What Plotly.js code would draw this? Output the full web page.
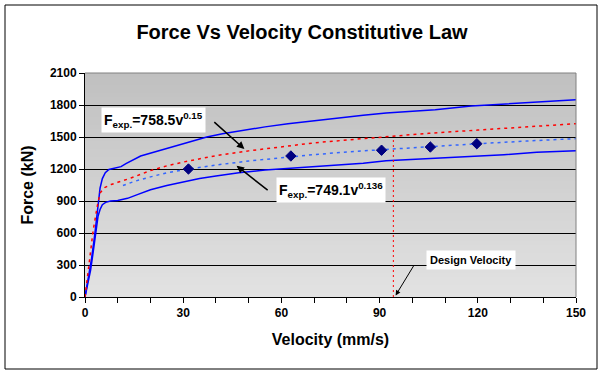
<!DOCTYPE html>
<html>
<head>
<meta charset="utf-8">
<script src="https://cdn.plot.ly/plotly-3.0.1.min.js"></script>
<style>html,body{margin:0;padding:0;background:#fff;}#chart{width:604px;height:374px;}</style>
</head>
<body>
<div id="chart"></div>
<script>
// ---- data ----
const upperV = [0, 1, 2, 3, 4, 4.6, 5.3, 6.2, 7.3, 9, 11, 12.5, 14.8, 17, 19.9, 25, 30, 35, 37.2, 42, 47.4, 55, 62, 70, 77, 85, 92, 100, 107, 118, 128, 138, 150];
const upperF = [0, 170, 360, 590, 870, 1020, 1110, 1165, 1195, 1210, 1222, 1250, 1290, 1322, 1348, 1392, 1440, 1482, 1500, 1530, 1558, 1595, 1625, 1655, 1680, 1705, 1725, 1740, 1756, 1790, 1809, 1829, 1850];

const lowerV = [0, 1, 1.7, 2.5, 3.3, 4, 4.6, 5.3, 6.3, 7.8, 10, 13, 16, 20, 25, 30, 35, 40, 47, 55, 62, 70, 77, 85, 92, 100, 107, 118, 128, 138, 150];
const lowerF = [0, 140, 250, 420, 630, 760, 820, 865, 887, 900, 905, 925, 960, 1005, 1045, 1080, 1110, 1135, 1165, 1190, 1205, 1220, 1232, 1255, 1278, 1290, 1297, 1318, 1334, 1356, 1372];

const fitAV = [0, 0.5, 1.5, 2.5, 3.8, 4.6, 6, 8, 10, 14, 20, 25, 30, 40, 50, 61, 70, 80, 92, 100, 105, 120, 130, 140, 150];
const fitAF = [0, 120, 355, 625, 860, 975, 1025, 1055, 1075, 1115, 1185, 1230, 1265, 1325, 1370, 1415, 1445, 1472, 1505, 1522, 1535, 1565, 1585, 1605, 1625];

const fitBV = [11.6, 15, 20, 25, 31.6, 40, 50, 63, 70, 80, 90.6, 100, 110, 120, 135, 150];
const fitBF = [1045, 1083, 1126, 1165, 1198, 1237, 1275, 1316, 1335, 1360, 1382, 1402, 1420, 1437, 1462, 1485];

const expV = [31.6, 62.9, 90.6, 105.5, 119.7];
const expF = [1200, 1322, 1376, 1406, 1437];

const designV = [94.2, 94.2];
const designF = [0, 1500];

const xTickVals = [0, 30, 60, 90, 120, 150];
const yTickVals = [0, 300, 600, 900, 1200, 1500, 1800, 2100];

// ---- styling ----
const FONT = "Arial, 'Liberation Sans', sans-serif";

const traces = [
  {x: upperV, y: upperF, type: 'scatter', mode: 'lines', line: {color: '#0000FF', width: 1.5}, hoverinfo: 'skip'},
  {x: lowerV, y: lowerF, type: 'scatter', mode: 'lines', line: {color: '#0000FF', width: 1.5}, hoverinfo: 'skip'},
  {x: fitAV, y: fitAF, type: 'scatter', mode: 'lines', line: {color: '#FF0000', width: 1.5, dash: '3px,4px'}},
  {x: fitBV, y: fitBF, type: 'scatter', mode: 'lines', line: {color: '#3366FF', width: 1.5, dash: '3px,4px'}},
  {x: expV, y: expF, type: 'scatter', mode: 'markers', marker: {symbol: 'diamond', size: 8, color: '#000080', line: {color: '#000080', width: 1}}},
  {x: designV, y: designF, type: 'scatter', mode: 'lines', line: {color: '#FF0000', width: 1, dash: '2px,3px'}}
];

// gradient plot background as stacked strips
const shapes = [];
const N = 56;
for (let i = 0; i < N; i++) {
  const t = i / (N - 1);
  const c = Math.round(226 - (226 - 192) * t);
  shapes.push({type: 'rect', xref: 'x domain', yref: 'y domain', x0: 0, x1: 1, y0: i / N, y1: (i + 1) / N,
    fillcolor: `rgb(${c},${c},${c})`, line: {width: 0}, layer: 'below'});
}
// plot area border (top/right gray)
shapes.push({type: 'line', xref: 'x domain', yref: 'y domain', x0: 0, x1: 1, y0: 1, y1: 1, line: {color: '#808080', width: 1}, layer: 'above'});
shapes.push({type: 'line', xref: 'x domain', yref: 'y domain', x0: 1, x1: 1, y0: 0, y1: 1, line: {color: '#808080', width: 1}, layer: 'above'});
// outer chart frame
shapes.push({type: 'rect', xref: 'paper', yref: 'paper', x0: (5 - 85) / 491, x1: (597 - 85) / 491, y0: (297 - 369) / 224, y1: (297 - 5) / 224,
  line: {color: '#000000', width: 1}, fillcolor: 'rgba(0,0,0,0)', layer: 'above'});

const annFont = {family: FONT, size: 14, color: '#000', weight: 'bold'};
const annotations = [
  {x: 20.9, y: 1659, xref: 'x', yref: 'y', text: 'F<sub>exp.</sub>=758.5v<sup>0.15</sup>', showarrow: false,
   bgcolor: '#FFFFFF', borderpad: 2, font: annFont},
  {x: 75.3, y: 1003, xref: 'x', yref: 'y', text: 'F<sub>exp.</sub>=749.1v<sup>0.136</sup>', showarrow: false,
   bgcolor: '#FFFFFF', borderpad: 2, font: annFont},
  {x: 117.8, y: 350, xref: 'x', yref: 'y', text: 'Design Velocity', showarrow: false,
   bgcolor: '#FFFFFF', borderpad: 3, font: {family: FONT, size: 11, color: '#000', weight: 'bold'}},
  {x: 48.7, y: 1387, xref: 'x', yref: 'y', text: '', showarrow: true, ax: -31.6, ay: -28.3,
   arrowhead: 2, arrowsize: 1, arrowwidth: 1.5, arrowcolor: '#000', standoff: 0},
  {x: 46.3, y: 1231, xref: 'x', yref: 'y', text: '', showarrow: true, ax: 32.6, ay: 25.7,
   arrowhead: 2, arrowsize: 1, arrowwidth: 1.5, arrowcolor: '#000', standoff: 0},
  {x: 94.9, y: 15, xref: 'x', yref: 'y', text: '', showarrow: true, ax: 19.3, ay: -31.7,
   arrowhead: 2, arrowsize: 1, arrowwidth: 1, arrowcolor: '#000', standoff: 0}
];

const layout = {
  width: 604, height: 374,
  margin: {l: 85, r: 28, t: 73, b: 77, pad: 0},
  paper_bgcolor: '#FFFFFF',
  plot_bgcolor: 'rgba(0,0,0,0)',
  showlegend: false,
  font: {family: FONT, color: '#000'},
  title: {text: 'Force Vs Velocity Constitutive Law', x: 0.5, xref: 'container', xanchor: 'center',
          y: 1 - 32 / 374, yref: 'container', yanchor: 'middle',
          font: {family: FONT, size: 20, color: '#000', weight: 'bold'}},
  xaxis: {
    range: [0, 150], tickvals: xTickVals, ticktext: xTickVals.map(String),
    ticks: 'outside', ticklen: 5, tickwidth: 1, tickcolor: '#000',
    minor: {dtick: 10, tick0: 0, ticks: 'outside', ticklen: 5, tickwidth: 1, tickcolor: '#000', showgrid: false},
    showline: true, linecolor: '#000', linewidth: 1, showgrid: false, zeroline: false,
    tickfont: {family: FONT, size: 12, color: '#000', weight: 'bold'},
    title: {text: 'Velocity (mm/s)', standoff: 14, font: {family: FONT, size: 16, color: '#000', weight: 'bold'}},
    fixedrange: true
  },
  yaxis: {
    range: [0, 2100], tickvals: yTickVals, ticktext: yTickVals.map(String),
    ticks: 'outside', ticklen: 5, tickwidth: 1, tickcolor: '#000',
    showline: true, linecolor: '#000', linewidth: 1,
    showgrid: true, gridcolor: '#000', gridwidth: 1, zeroline: false,
    tickfont: {family: FONT, size: 12, color: '#000', weight: 'bold'},
    title: {text: 'Force (kN)', standoff: 12, font: {family: FONT, size: 16, color: '#000', weight: 'bold'}},
    fixedrange: true
  },
  shapes: shapes,
  annotations: annotations
};

Plotly.newPlot('chart', traces, layout, {displayModeBar: false, staticPlot: true});
</script>
</body>
</html>
